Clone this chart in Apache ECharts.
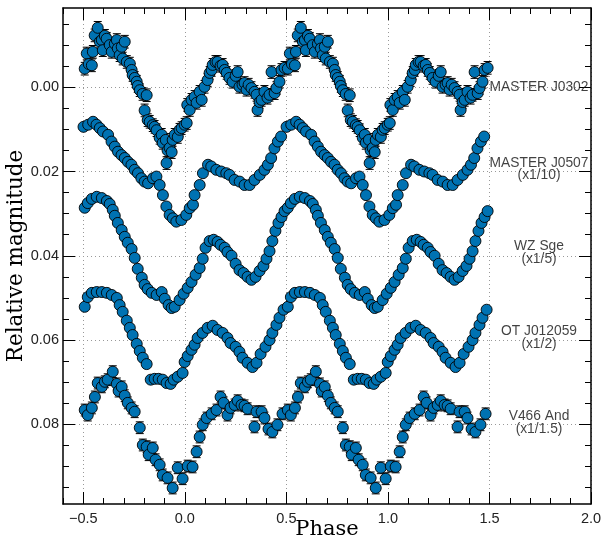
<!DOCTYPE html>
<html><head><meta charset="utf-8">
<script src="https://cdn.jsdelivr.net/npm/echarts@6/dist/echarts.min.js"></script>
<style>html,body{margin:0;padding:0;background:#fff}#c{width:604px;height:544px}</style>
</head><body><div id="c"></div>
<script>
// ---- data (one phase cycle each; the figure shows each light curve twice, shifted by +1 in phase)
const phaseJ0302 = [-0.493,-0.483,-0.473,-0.458,-0.453,-0.444,-0.429,-0.419,-0.409,-0.404,-0.394,-0.385,-0.370,-0.360,-0.345,-0.335,-0.330,-0.321,-0.311,-0.306,-0.296,-0.286,-0.271,-0.262,-0.257,-0.247,-0.237,-0.232,-0.222,-0.208,-0.198,-0.188,-0.183,-0.173,-0.158,-0.149,-0.139,-0.124,-0.114,-0.109,-0.094,-0.090,-0.085,-0.075,-0.065,-0.060,-0.050,-0.035,-0.026,-0.016,-0.001,0.009,0.012,0.024,0.033,0.048,0.058,0.073,0.083,0.097,0.112,0.122,0.132,0.137,0.151,0.161,0.176,0.186,0.196,0.206,0.220,0.235,0.250,0.260,0.269,0.284,0.294,0.304,0.314,0.328,0.343,0.353,0.358,0.368,0.378,0.392,0.407,0.417,0.427,0.442,0.451,0.466,0.476,0.491];
const magJ0302 = [-0.0044,-0.0080,-0.0055,-0.0052,-0.0084,-0.0123,-0.0141,-0.0108,-0.0112,-0.0088,-0.0122,-0.0115,-0.0100,-0.0084,-0.0103,-0.0112,-0.0092,-0.0076,-0.0096,-0.0068,-0.0108,-0.0060,-0.0056,-0.0041,-0.0029,-0.0022,-0.0013,-0.0003,0.0007,0.0016,0.0055,0.0019,0.0078,0.0082,0.0090,0.0094,0.0102,0.0120,0.0113,0.0132,0.0125,0.0180,0.0150,0.0144,0.0154,0.0125,0.0113,0.0118,0.0101,0.0097,0.0089,0.0085,0.0042,0.0054,0.0030,0.0023,0.0037,0.0011,0.0030,-0.0001,-0.0017,-0.0034,-0.0041,-0.0053,-0.0060,-0.0060,-0.0051,-0.0053,-0.0041,-0.0034,-0.0022,-0.0013,-0.0027,-0.0036,-0.0001,-0.0006,-0.0010,0.0006,-0.0006,0.0002,0.0011,0.0018,0.0054,0.0035,0.0030,0.0011,0.0025,0.0018,-0.0036,0.0014,0.0002,-0.0013,-0.0041,-0.0046];
const errJ0302 = 0.0015;

const phaseJ0507 = [-0.499,-0.476,-0.452,-0.435,-0.419,-0.403,-0.378,-0.361,-0.345,-0.329,-0.312,-0.296,-0.280,-0.263,-0.247,-0.231,-0.214,-0.198,-0.181,-0.157,-0.140,-0.124,-0.108,-0.091,-0.075,-0.059,-0.042,-0.017,0.007,0.024,0.040,0.048,0.073,0.089,0.114,0.130,0.155,0.179,0.204,0.220,0.245,0.270,0.294,0.319,0.343,0.369,0.392,0.409,0.425,0.441,0.458,0.474];
const magJ0507 = [0.0094,0.0089,0.0082,0.0089,0.0097,0.0105,0.0113,0.0129,0.0141,0.0153,0.0161,0.0168,0.0177,0.0184,0.0196,0.0204,0.0216,0.0224,0.0228,0.0216,0.0212,0.0232,0.0256,0.0283,0.0303,0.0311,0.0319,0.0315,0.0303,0.0287,0.0279,0.0256,0.0232,0.0204,0.0184,0.0188,0.0196,0.0200,0.0204,0.0208,0.0220,0.0224,0.0232,0.0232,0.0220,0.0208,0.0196,0.0184,0.0168,0.0145,0.0129,0.0117];

const phaseWZSge = [-0.493,-0.478,-0.458,-0.434,-0.409,-0.384,-0.370,-0.355,-0.345,-0.330,-0.311,-0.296,-0.281,-0.262,-0.247,-0.232,-0.212,-0.198,-0.183,-0.163,-0.139,-0.114,-0.099,-0.080,-0.065,-0.050,-0.026,-0.006,0.014,0.033,0.053,0.073,0.088,0.102,0.122,0.142,0.161,0.176,0.196,0.210,0.230,0.250,0.269,0.289,0.309,0.328,0.348,0.368,0.387,0.402,0.417,0.431,0.446,0.461,0.476,0.491];
const magWZSge = [0.0286,0.0275,0.0265,0.0260,0.0263,0.0270,0.0277,0.0291,0.0305,0.0322,0.0339,0.0355,0.0369,0.0384,0.0405,0.0431,0.0452,0.0469,0.0479,0.0488,0.0493,0.0486,0.0502,0.0517,0.0524,0.0521,0.0505,0.0490,0.0476,0.0462,0.0445,0.0429,0.0407,0.0381,0.0365,0.0362,0.0367,0.0374,0.0381,0.0391,0.0400,0.0419,0.0434,0.0441,0.0450,0.0457,0.0450,0.0436,0.0424,0.0407,0.0389,0.0365,0.0341,0.0322,0.0308,0.0294];

const phaseOT = [-0.493,-0.478,-0.458,-0.434,-0.409,-0.384,-0.360,-0.335,-0.321,-0.306,-0.286,-0.271,-0.257,-0.237,-0.222,-0.207,-0.188,-0.168,-0.149,-0.129,-0.109,-0.090,-0.070,-0.055,-0.035,-0.011,-0.001,0.014,0.033,0.048,0.063,0.087,0.112,0.137,0.161,0.186,0.210,0.225,0.250,0.269,0.284,0.309,0.333,0.353,0.373,0.397,0.417,0.431,0.451,0.466,0.486];
const magOT = [0.0521,0.0498,0.0488,0.0486,0.0486,0.0488,0.0493,0.0500,0.0517,0.0533,0.0554,0.0571,0.0588,0.0609,0.0626,0.0642,0.0657,0.0694,0.0692,0.0692,0.0694,0.0702,0.0704,0.0694,0.0687,0.0678,0.0652,0.0638,0.0623,0.0611,0.0595,0.0583,0.0571,0.0566,0.0576,0.0583,0.0595,0.0607,0.0616,0.0628,0.0642,0.0654,0.0664,0.0654,0.0633,0.0616,0.0600,0.0583,0.0564,0.0547,0.0528];

const phaseV466 = [-0.493,-0.478,-0.458,-0.443,-0.429,-0.409,-0.394,-0.380,-0.355,-0.335,-0.326,-0.311,-0.296,-0.281,-0.262,-0.247,-0.222,-0.207,-0.188,-0.178,-0.158,-0.144,-0.124,-0.109,-0.085,-0.060,-0.035,-0.011,0.014,0.038,0.058,0.073,0.088,0.107,0.132,0.156,0.176,0.191,0.210,0.225,0.245,0.260,0.279,0.294,0.309,0.343,0.353,0.378,0.392,0.412,0.431,0.456,0.481];
const magV466 = [0.0766,0.0778,0.0761,0.0735,0.0702,0.0711,0.0699,0.0694,0.0675,0.0704,0.0721,0.0711,0.0732,0.0749,0.0761,0.0770,0.0808,0.0849,0.0853,0.0872,0.0856,0.0884,0.0896,0.0920,0.0927,0.0951,0.0903,0.0929,0.0899,0.0901,0.0865,0.0830,0.0801,0.0785,0.0775,0.0766,0.0735,0.0749,0.0778,0.0761,0.0754,0.0744,0.0754,0.0756,0.0763,0.0806,0.0770,0.0770,0.0785,0.0811,0.0818,0.0801,0.0775];
const errV466 = 0.0014;

const cycleShifts = [0, 1];

const curveNames = ['MASTER J0302', 'MASTER J0507\n(x1/10)', 'WZ Sge\n(x1/5)', 'OT J012059\n(x1/2)', 'V466 And\n(x1/1.5)'];
const curveLabelPhase = [1.744, 1.744, 1.744, 1.744, 1.744];
const curveLabelMag = [0.0, 0.0195, 0.0393, 0.0594, 0.0796];

const xMajorTicks = [-0.5, 0.0, 0.5, 1.0, 1.5, 2.0];
const yMajorTicks = [0.00, 0.02, 0.04, 0.06, 0.08];
const yMinorTicks = [-0.015,-0.010,-0.005,0.000,0.005,0.010,0.015,0.020,0.025,0.030,0.035,0.040,0.045,0.050,0.055,0.060,0.065,0.070,0.075,0.080,0.085,0.090,0.095];
const xMinorTicks = [-0.6,-0.5,-0.4,-0.3,-0.2,-0.1,0,0.1,0.2,0.3,0.4,0.5,0.6,0.7,0.8,0.9,1.0,1.1,1.2,1.3,1.4,1.5,1.6,1.7,1.8,1.9,2.0];

// ---- build
function folded(ph, mg, err) {
  const out = [];
  cycleShifts.forEach(s => ph.forEach((p, i) => out.push(err == null ? [p + s, mg[i]] : [p + s, mg[i], err])));
  return out;
}
const FILL = '#0072B2';
const X_MIN = -0.6, X_MAX = 2.0, Y_MIN = -0.0188, Y_MAX = 0.0989;
const tickFont = 'Liberation Sans, Arial, sans-serif';
const titleFont = 'DejaVu Serif, serif';

function errRender(params, api) {
  const x = api.value(0), y = api.value(1), e = api.value(2);
  const a = api.coord([x, y - e]), b = api.coord([x, y + e]);
  const hw = 4, st = {stroke: '#000', lineWidth: 1};
  return {type: 'group', children: [
    {type: 'line', shape: {x1: a[0], y1: a[1], x2: b[0], y2: b[1]}, style: st},
    {type: 'line', shape: {x1: a[0]-hw, y1: a[1], x2: a[0]+hw, y2: a[1]}, style: st},
    {type: 'line', shape: {x1: b[0]-hw, y1: b[1], x2: b[0]+hw, y2: b[1]}, style: st}
  ]};
}
function scatterSeries(ph, mg) {
  return {type: 'scatter', xAxisIndex: 0, yAxisIndex: 0, data: folded(ph, mg), symbol: 'circle', symbolSize: 11,
    itemStyle: {color: FILL, borderColor: '#000', borderWidth: 0.9, opacity: 1}, z: 5, silent: true, animation: false};
}
function errSeries(ph, mg, err) {
  return {type: 'custom', xAxisIndex: 0, yAxisIndex: 0, data: folded(ph, mg, err), renderItem: errRender,
    encode: {x: 0, y: 1}, z: 3, silent: true, animation: false};
}
function axisLineDef(show) {
  return {show: show, onZero: false, lineStyle: {color: '#000', width: 1.5}};
}
function xAxisDef(pos, vals, len, withLabel, withSplit, name, lineShow) {
  return {type: 'value', min: X_MIN, max: X_MAX, position: pos,
    axisLine: axisLineDef(lineShow),
    axisTick: {show: true, inside: true, length: len, customValues: vals, lineStyle: {color: '#000', width: 1}},
    axisLabel: withLabel ? {show: true, customValues: vals, margin: 7, color: '#222', fontFamily: tickFont, fontSize: 14.5,
      formatter: v => v.toFixed(1).replace('-', '\u2212')} : {show: false},
    splitLine: withSplit ? {show: true, lineStyle: {color: '#999', type: [1, 3], width: 1}} : {show: false},
    name: name || '', nameLocation: 'middle', nameGap: 15, nameMoveOverlap: false,
    nameTextStyle: {fontFamily: titleFont, fontSize: 21, color: '#000', verticalAlign: 'top'}};
}
function yAxisDef(pos, vals, len, withLabel, withSplit, name, lineShow) {
  return {type: 'value', min: Y_MIN, max: Y_MAX, inverse: true, position: pos,
    axisLine: axisLineDef(lineShow),
    axisTick: {show: true, inside: true, length: len, customValues: vals, lineStyle: {color: '#000', width: 1}},
    axisLabel: withLabel ? {show: true, customValues: vals, margin: 4, color: '#222', fontFamily: tickFont, fontSize: 14.5,
      formatter: v => v.toFixed(2)} : {show: false},
    splitLine: withSplit ? {show: true, lineStyle: {color: '#999', type: [1, 3], width: 1}} : {show: false},
    name: name || '', nameLocation: 'middle', nameGap: 36, nameRotate: 90, nameMoveOverlap: false,
    nameTextStyle: {fontFamily: titleFont, fontSize: 21.5, color: '#000'}};
}

const labelData = curveNames.map((n, i) => ({name: n, value: [curveLabelPhase[i], curveLabelMag[i]]}));

const option = {
  backgroundColor: '#fff',
  animation: false,
  grid: {left: 63, right: 13, top: 8, bottom: 40, containLabel: false, outerBoundsMode: 'none'},
  xAxis: [
    xAxisDef('bottom', xMajorTicks, 12, true, true, 'Phase', true),
    xAxisDef('bottom', xMinorTicks, 6, false, false, '', false),
    xAxisDef('top', xMajorTicks, 12, false, false, '', true),
    xAxisDef('top', xMinorTicks, 6, false, false, '', false)
  ],
  yAxis: [
    yAxisDef('left', yMajorTicks, 12, true, true, 'Relative magnitude', true),
    yAxisDef('left', yMinorTicks, 6, false, false, '', false),
    yAxisDef('right', yMajorTicks, 12, false, false, '', true),
    yAxisDef('right', yMinorTicks, 6, false, false, '', false)
  ],
  series: [
    errSeries(phaseJ0302, magJ0302, errJ0302),
    scatterSeries(phaseJ0302, magJ0302),
    scatterSeries(phaseJ0507, magJ0507),
    scatterSeries(phaseWZSge, magWZSge),
    scatterSeries(phaseOT, magOT),
    errSeries(phaseV466, magV466, errV466),
    scatterSeries(phaseV466, magV466),
    {type: 'scatter', xAxisIndex: 0, yAxisIndex: 0, data: labelData, symbolSize: 1,
      itemStyle: {color: 'rgba(0,0,0,0)'}, silent: true, z: 10,
      label: {show: true, position: 'inside', formatter: p => p.name, color: '#111', fontFamily: tickFont,
        fontSize: 13.8, lineHeight: 12.5, align: 'center', verticalAlign: 'middle'}}
  ]
};
const chart = echarts.init(document.getElementById('c'), null, {renderer: 'canvas'});
chart.setOption(option);
</script>
</body></html>
